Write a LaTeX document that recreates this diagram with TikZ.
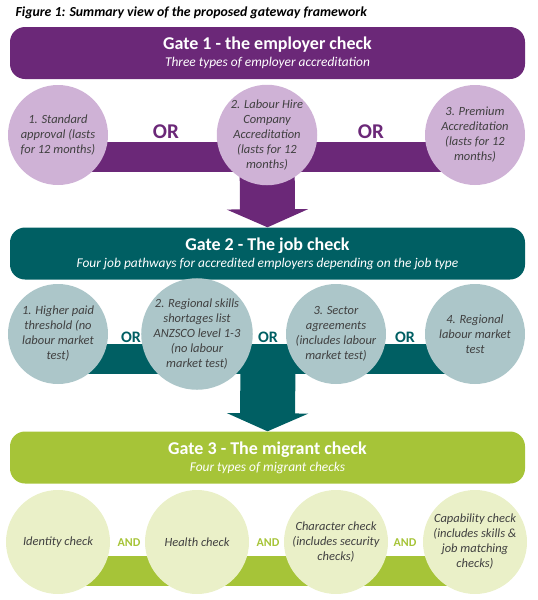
\documentclass[tikz,border=0pt]{standalone}
\usepackage{fontspec}
\setmainfont{Carlito}
\usepackage{tikz}
\usepackage{xcolor}
\usetikzlibrary{arrows.meta,backgrounds}
\definecolor{purpledark}{RGB}{107,40,120}
\definecolor{purplelight}{RGB}{207,178,214}
\definecolor{tealdark}{RGB}{0,95,99}
\definecolor{teallight}{RGB}{172,198,201}
\definecolor{greendark}{RGB}{166,196,56}
\definecolor{greenlight}{RGB}{234,240,200}
\definecolor{textgray}{RGB}{64,64,64}

\begin{document}
\begin{tikzpicture}[x=1pt,y=1pt,node distance=139pt]
	\tikzstyle{gbar} = [rounded corners=15pt, minimum width=515pt, minimum height=52pt, text=white, align=center, inner sep=0pt, font=\fontsize{13.4}{17}\selectfont]
\tikzstyle{nn} = [circle, minimum size=100pt, inner sep=0pt, align=center, text=textgray, font=\fontsize{12.5}{15}\selectfont\itshape]
\tikzstyle{orlab} = [inner sep=0pt, font=\bfseries]
\tikzstyle{band} = [line width=30pt]
\tikzstyle{stemline} = [line width=55pt, -{Triangle[width=81pt,length=18pt]}]
\useasboundingbox (0,0) rectangle (538,-600);
\node(fig)[anchor=base west, font=\fontsize{13.8}{16}\selectfont\bfseries\itshape] at (12,-16) {Figure 1: Summary view of the proposed gateway framework};
% gate 1
\node(gate1)[gbar, fill=purpledark] at (267.5,-53) {{\fontsize{18}{21}\selectfont\bfseries Gate 1 - the employer check}\\ \itshape Three types of employer accreditation};
\node(c11)[nn, fill=purplelight] at (58,-135) {1. Standard\\approval (lasts\\for 12 months)};
\node(c12)[nn, fill=purplelight] at (267,-135) {2. Labour Hire\\Company\\Accreditation\\(lasts for 12\\months)};
\node(c13)[nn, fill=purplelight] at (475,-135) {3. Premium\\Accreditation\\(lasts for 12\\months)};
\node(or11)[orlab, text=purpledark, font=\fontsize{21}{21}\selectfont\bfseries] at (166,-132) {OR};
\node(or12)[orlab, text=purpledark, font=\fontsize{21}{21}\selectfont\bfseries] at (371,-132) {OR};
% gate 2
\node(gate2)[gbar, fill=tealdark] at (267.5,-253.5) {{\fontsize{18}{21}\selectfont\bfseries Gate 2 - The job check}\\ \itshape Four job pathways for accredited employers depending on the job type};
\node(c21)[nn, fill=teallight] at (58,-334) {1. Higher paid\\threshold (no\\labour market\\test)};
\node(c22)[nn, fill=teallight, right of = c21] {2. Regional skills\\shortages list\\ANZSCO level 1-3\\(no labour\\market test)};
\node(c23)[nn, fill=teallight, right of = c22] {3. Sector\\agreements\\(includes labour\\market test)};
\node(c24)[nn, fill=teallight, right of = c23] {4. Regional\\labour market\\test};
\node(or21)[orlab, text=tealdark, font=\fontsize{16}{16}\selectfont\bfseries] at (131,-337) {OR};
\node(or22)[orlab, text=tealdark, font=\fontsize{16}{16}\selectfont\bfseries] at (268,-337) {OR};
\node(or23)[orlab, text=tealdark, font=\fontsize{16}{16}\selectfont\bfseries] at (405,-337) {OR};
\coordinate(j2) at (268,-350);
% gate 3
\node(gate3)[gbar, fill=greendark] at (267.5,-457.5) {{\fontsize{18}{21}\selectfont\bfseries Gate 3 - The migrant check}\\ \itshape Four types of migrant checks};
\node(c31)[nn, fill=greenlight, minimum size=104pt] at (58,-542) {Identity check};
\node(c32)[nn, fill=greenlight, minimum size=104pt, right of = c31] {Health check};
\node(c33)[nn, fill=greenlight, minimum size=104pt, right of = c32] {Character check\\(includes security\\checks)};
\node(c34)[nn, fill=greenlight, minimum size=104pt, right of = c33] {Capability check\\(includes skills \&\\job matching\\checks)};
\node(and31)[orlab, text=greendark, font=\fontsize{12}{12}\selectfont\bfseries] at (129,-543) {AND};
\node(and32)[orlab, text=greendark, font=\fontsize{12}{12}\selectfont\bfseries] at (268,-543) {AND};
\node(and33)[orlab, text=greendark, font=\fontsize{12}{12}\selectfont\bfseries] at (405,-543) {AND};
\begin{scope}[on background layer]
\draw[band, purpledark] ([yshift=-22pt]c11.center) -- ([yshift=-22pt]c13.center);
\draw[stemline, purpledark] (c12.center) -- (gate2.north);
\draw[band, tealdark] ([yshift=-25pt]c21.center) -- ([yshift=-25pt]c24.center);
\draw[stemline, tealdark] (j2) -- (gate3.north);
\draw[band, greendark] ([yshift=-29pt]c31.center) -- ([yshift=-29pt]c34.center);
\end{scope}
  \end{tikzpicture}
\end{document}
